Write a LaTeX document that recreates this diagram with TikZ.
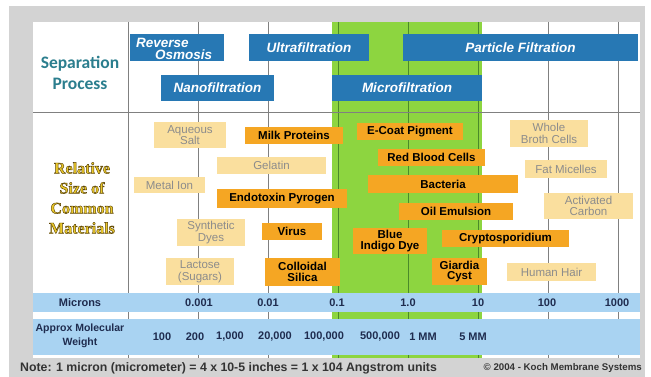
\documentclass[tikz,border=0pt]{standalone}
\usepackage{fontspec}
\setmainfont{Liberation Sans}
\newfontfamily\headfont{Carlito}
\newfontfamily\relfont{Liberation Serif}
\usepackage{xcolor}
\definecolor{procblue}{HTML}{2778B4}
\definecolor{bandblue}{HTML}{A9D3F2}
\definecolor{microgreen}{HTML}{8DD540}
\definecolor{gridgreen}{HTML}{4A8A2A}
\definecolor{matorange}{HTML}{F5A623}
\definecolor{matpale}{HTML}{FADF9E}
\definecolor{framegray}{HTML}{D3D3D3}
\definecolor{headteal}{HTML}{2B7E8E}
\definecolor{relgold}{HTML}{EBC92A}
\definecolor{scalenavy}{HTML}{1F2C4F}
\definecolor{notegray}{HTML}{333333}

\newcommand{\fsz}[2]{\fontsize{#1}{#2}\selectfont}
% fill + dark outline for the heading letters
\newcommand{\goldtext}[1]{\special{pdf:literal direct 2 Tr 0.45 w 0.36 0.27 0.03 RG}#1\special{pdf:literal direct 0 Tr}}

\begin{document}
\begin{tikzpicture}[
    x=1pt, y=-1pt,
    gridline/.style={draw=black!50, line width=0.8pt},
    procbox/.style={
        fill=procblue,
        text=white,
        inner sep=0pt,
        font=\fsz{13.5}{12}\bfseries\itshape,
        align=center,
    },
    hotbox/.style={
        fill=matorange,
        text=black,
        inner sep=0pt,
        font=\fsz{11.5}{10.5}\bfseries,
        align=center,
    },
    palebox/.style={
        fill=matpale,
        text=black!45,
        inner sep=0pt,
        font=\fsz{11.5}{11.5},
        align=center,
    },
    scalelbl/.style={
        text=scalenavy,
        inner sep=0pt,
        font=\fsz{11}{14}\bfseries,
        align=center,
    },
]

\useasboundingbox (0,0) rectangle (651,377);

% frame, panel and the microfiltration column
\fill[framegray] (9,6) rectangle (645,377);
\fill[white] (33,22) rectangle (640,358);
\fill[microgreen] (332,22) rectangle (482,358);

% decade lines
\foreach \gx in {128,198,268,548,618}
    \draw[gridline] (\gx,22) -- (\gx,358);
\foreach \gx in {338,408,478}
    \draw[gridline, draw=gridgreen] (\gx,22) -- (\gx,358);
\draw[gridline] (33,112) -- (640,112);

% scale bands
\fill[bandblue] (33,293) rectangle (640,312);
\fill[bandblue] (33,319) rectangle (640,355);

% Separation processes
\node[procbox, minimum width=94pt, minimum height=27pt] (revosm) at (177,47.5) {};
\node[procbox, anchor=west, align=left] (revosmtxt) at (136,48.5) {Reverse\\\hspace*{19pt}Osmosis};
\node[procbox, minimum width=120pt, minimum height=27pt] (ultra) at (309,47.5) {Ultrafiltration};
\node[procbox, minimum width=235pt, minimum height=27pt] (particle) at (520.5,47.5) {Particle Filtration};
\node[procbox, minimum width=113pt, minimum height=26pt] (nano) at (217.5,88) {Nanofiltration};
\node[procbox, minimum width=150pt, minimum height=26pt] (micro) at (407,88) {Microfiltration};

% Materials outside the microfiltration range
\node[palebox, minimum width=72pt, minimum height=26pt] (aqsalt) at (190,135) {Aqueous\\Salt};
\node[palebox, minimum width=109pt, minimum height=17pt] (gelatin) at (271.5,165.5) {Gelatin};
\node[palebox, minimum width=71pt, minimum height=16pt] (metalion) at (169.5,185) {Metal Ion};
\node[palebox, minimum width=68pt, minimum height=27pt] (syndyes) at (211,232.5) {Synthetic\\Dyes};
\node[palebox, minimum width=68pt, minimum height=27pt] (lactose) at (200,271.5) {Lactose\\(Sugars)};
\node[palebox, minimum width=78pt, minimum height=27pt] (broth) at (549,133.5) {Whole\\Broth Cells};
\node[palebox, minimum width=82pt, minimum height=18pt] (micelles) at (566,169) {Fat Micelles};
\node[palebox, minimum width=89pt, minimum height=26pt] (carbon) at (588.5,206) {Activated\\Carbon};
\node[palebox, minimum width=89pt, minimum height=18pt] (hair) at (551.5,272) {Human Hair};

% Materials in reach of microfiltration
\node[hotbox, minimum width=98pt, minimum height=17pt] (milk) at (294,135.5) {Milk Proteins};
\node[hotbox, minimum width=130pt, minimum height=19pt] (endotox) at (282,198.5) {Endotoxin Pyrogen};
\node[hotbox, minimum width=60pt, minimum height=17pt] (virus) at (292,231.5) {Virus};
\node[hotbox, minimum width=75pt, minimum height=28pt] (silica) at (302.5,272) {Colloidal\\Silica};
\node[hotbox, minimum width=106pt, minimum height=17pt] (ecoat) at (410,131.5) {E-Coat Pigment};
\node[hotbox, minimum width=107pt, minimum height=17pt] (rbc) at (431.5,157.5) {Red Blood Cells};
\node[hotbox, minimum width=150pt, minimum height=18pt] (bacteria) at (443,184) {Bacteria};
\node[hotbox, minimum width=114pt, minimum height=17pt] (oil) at (456,211.5) {Oil Emulsion};
\node[hotbox, minimum width=74pt, minimum height=26pt] (indigo) at (390,241) {Blue\\Indigo Dye};
\node[hotbox, minimum width=127pt, minimum height=17pt] (crypto) at (505.5,238.5) {Cryptosporidium};
\node[hotbox, minimum width=55pt, minimum height=27pt] (giardia) at (459.5,271.5) {Giardia\\Cyst};

% Scales
\node[scalelbl] (microns) at (80,303) {Microns};
\foreach \gx/\lbl in {199/0.001, 268/0.01, 337/0.1, 408/1.0, 478/10, 547/100, 617/1000}
    \node[scalelbl] (mu-\gx) at (\gx,303) {\lbl};
\node[scalelbl, font=\fsz{10.5}{14}\bfseries] (molwt) at (80,336) {Approx Molecular\\Weight};
\foreach \gx/\lbl in {162/100, 195/200, 230/{1,000}, 275/{20,000}, 324/{100,000}, 380/{500,000}, 423/1 MM, 473/5 MM}
    \node[scalelbl] (mw-\gx) at (\gx,337) {\lbl};

% Footer
\node[anchor=west, inner sep=0pt, text=notegray, font=\fsz{12.3}{14}\bfseries] (note) at (20,368)
    {Note: 1 micron (micrometer) = 4 x 10-5 inches = 1 x 104 Angstrom units};
\node[anchor=east, inner sep=0pt, text=notegray, font=\fsz{9.7}{12}\bfseries] (copy) at (642,368)
    {\textcopyright\ 2004 - Koch Membrane Systems};

% Row headings
\node[inner sep=0pt, text=headteal, align=center, font=\headfont\fsz{17.5}{21}\bfseries] (sepproc) at (80,73)
    {Separation\\Process};
\node[inner sep=0pt, text=relgold, align=center, font=\relfont\fsz{16}{20}\bfseries] (relsize) at (82,198)
    {\goldtext{Relative\\Size of\\Common\\Materials}};

\end{tikzpicture}
\end{document}
